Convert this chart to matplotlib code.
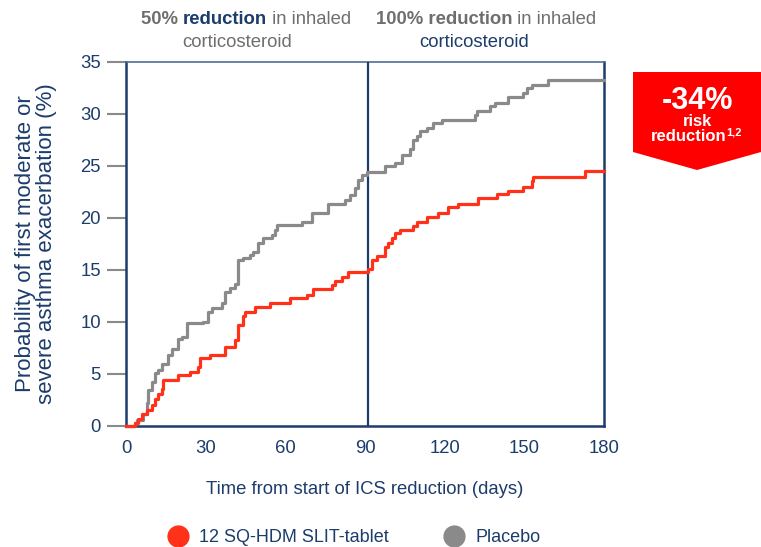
import matplotlib
matplotlib.use("Agg")
import matplotlib.pyplot as plt
from matplotlib.lines import Line2D
from matplotlib.patches import Polygon
from matplotlib.text import Annotation

# ── data ─────────────────────────────────────────────────────────────────────
PLACEBO_DAYS = [0, 3.4, 4.1, 6.4, 7.9, 8.3, 9.8, 10.9, 12.0, 13.6, 15.8, 17.3,
                19.6, 21.1, 23.0, 29.0, 30.9, 32.4, 36.1, 37.3, 39.2, 41.0,
                42.2, 44.1, 46.7, 47.8, 49.7, 51.6, 55.0, 56.1, 56.9, 66.3,
                70.0, 76.1, 82.5, 84.3, 86.2, 87.3, 88.8, 90.7, 97.5, 101.3,
                103.9, 106.9, 108.1, 109.6, 110.7, 113.3, 115.6, 119.0, 131.4,
                132.2, 137.0, 138.9, 143.8, 149.5, 151.0, 152.9, 158.9, 180]
PLACEBO_PCT = [0, 0.3, 0.6, 1.2, 2.2, 3.5, 4.2, 5.1, 5.4, 6.0, 6.8, 7.4,
               8.4, 8.6, 9.9, 10.0, 11.0, 11.3, 11.8, 12.9, 13.3, 13.7,
               16.0, 16.2, 16.4, 16.7, 17.6, 18.1, 18.4, 18.8, 19.3, 19.6,
               20.5, 21.3, 21.7, 22.2, 22.9, 23.7, 24.1, 24.4, 25.0, 25.3,
               26.1, 26.6, 27.5, 27.9, 28.4, 28.7, 29.1, 29.4, 29.9,
               30.3, 30.8, 31.1, 31.6, 32.0, 32.5, 32.8, 33.3, 33.3]

SLIT_DAYS = [0, 3.4, 4.5, 6.0, 7.9, 9.8, 10.9, 12.0, 13.6, 13.9, 19.6, 24.1,
             27.1, 27.9, 31.6, 37.3, 41.0, 42.2, 44.1, 44.8, 48.6, 54.2,
             61.7, 68.1, 70.4, 77.6, 78.7, 81.3, 83.6, 91.1, 92.6, 94.5,
             97.5, 98.6, 100.2, 101.3, 103.2, 108.1, 109.6, 113.3, 117.5,
             121.2, 125.0, 132.5, 139.7, 143.8, 149.5, 152.9, 153.2, 172.8,
             180]
SLIT_PCT = [0, 0.3, 0.7, 1.2, 1.5, 2.0, 2.6, 3.1, 3.6, 4.4, 4.9, 5.2,
            5.7, 6.5, 6.8, 7.6, 8.3, 9.7, 10.6, 11.0, 11.4, 11.8,
            12.3, 12.6, 13.2, 13.6, 13.9, 14.3, 14.8, 15.1, 16.0, 16.3,
            17.2, 17.6, 18.1, 18.6, 18.8, 19.2, 19.6, 20.1, 20.5,
            21.1, 21.3, 21.9, 22.3, 22.6, 23.0, 23.6, 23.9, 24.5,
            24.5]

ICS_SWITCH_DAY = 91
X_TICKS = [0, 30, 60, 90, 120, 150, 180]
Y_TICKS = [0, 5, 10, 15, 20, 25, 30, 35]
SERIES_LABELS = ["12 SQ-HDM SLIT-tablet", "Placebo"]

# ── style ────────────────────────────────────────────────────────────────────
NAVY = "#1c3c6c"
GREY = "#8a8a8a"
TXT_GREY = "#6e6e6e"
RED = "#ff3219"
BADGE = "#fe0000"
HDR = 13.3

plt.rcParams["font.family"] = ["Liberation Sans", "DejaVu Sans"]
plt.rcParams["font.size"] = 12

W, H = 761, 547
fig = plt.figure(figsize=(W / 100, H / 100), dpi=100)
ax = fig.add_axes([126 / W, 1 - 426 / H, (604 - 126) / W, (426 - 62) / H])


def px(x, y):
    """pixel position (from top-left) -> figure fraction"""
    return x / W, 1 - y / H


ax.step(PLACEBO_DAYS, PLACEBO_PCT, where="post", color=GREY, lw=2.3,
        zorder=4, clip_on=False)
ax.step(SLIT_DAYS, SLIT_PCT, where="post", color=RED, lw=2.3,
        zorder=5, clip_on=False)
ax.axvline(ICS_SWITCH_DAY, color=NAVY, lw=1.6, zorder=3)

ax.set_xlim(0, 180)
ax.set_ylim(0, 35)
ax.set_xticks(X_TICKS)
ax.set_yticks(Y_TICKS)
ax.tick_params(axis="x", length=0, pad=10, labelsize=13.3, labelcolor=NAVY)
ax.tick_params(axis="y", length=14, width=1.5, color=GREY, pad=4,
               labelsize=13.3, labelcolor=NAVY)
yt = ax.yaxis.get_major_ticks()
for t in (yt[0], yt[-1]):
    t.tick1line.set_color(NAVY)

for side in ("left", "right", "bottom"):
    ax.spines[side].set_color(NAVY)
    ax.spines[side].set_linewidth(1.8)
ax.spines["top"].set_color("#4f6f95")
ax.spines["top"].set_linewidth(1.2)

ax.set_xlabel("Time from start of ICS reduction (days)", color=NAVY,
              fontsize=13.3, labelpad=17)
ax.set_ylabel("Probability of first moderate or\nsevere asthma exacerbation (%)",
              color=NAVY, fontsize=16, labelpad=17, linespacing=1.0)


# ── header text above the two periods (mixed weights / colours) ─────────────
def header(x, y, pieces):
    prev = fig.text(*px(x, y), pieces[0][0], color=pieces[0][1],
                    fontweight=pieces[0][2], fontsize=HDR, va="baseline")
    for s, c, w in pieces[1:]:
        prev = fig.add_artist(Annotation(
            s, xy=(1, 0), xycoords=prev, color=c, fontweight=w,
            fontsize=HDR, va="bottom", ha="left", annotation_clip=False))


header(141, 24, [("50% ", TXT_GREY, "bold"), ("reduction", NAVY, "bold"),
                 (" in inhaled", TXT_GREY, "normal")])
fig.text(*px(237, 47), "corticosteroid", color=TXT_GREY, fontsize=HDR,
         ha="center", va="baseline")
header(376, 24, [("100% reduction", TXT_GREY, "bold"),
                 (" in inhaled", TXT_GREY, "normal")])
fig.text(*px(474, 47), "corticosteroid", color=NAVY, fontsize=HDR,
         ha="center", va="baseline")

# ── red badge ────────────────────────────────────────────────────────────────
badge = Polygon([px(633, 72), px(761, 72), px(761, 152), px(697, 170),
                 px(633, 152)], closed=True, facecolor=BADGE,
                edgecolor="none", transform=fig.transFigure, zorder=1)
fig.add_artist(badge)
fig.text(*px(697, 101), "-34%", color="white", fontsize=22,
         fontweight="bold", ha="center", va="center", zorder=5)
fig.text(*px(697, 122), "risk", color="white", fontsize=12,
         fontweight="bold", ha="center", va="center", zorder=5)
red_txt = fig.text(*px(689, 137), "reduction", color="white", fontsize=12,
                   fontweight="bold", ha="center", va="center", zorder=5)
fig.add_artist(Annotation("1,2", xy=(0.99, 0.45), xycoords=red_txt,
                          color="white", fontsize=8, fontweight="bold",
                          ha="left", va="bottom", annotation_clip=False,
                          zorder=5))

# ── legend ───────────────────────────────────────────────────────────────────
handles = [Line2D([0], [0], marker="o", linestyle="none", markersize=15,
                  markerfacecolor=c, markeredgecolor=c, label=l)
           for c, l in zip([RED, GREY], SERIES_LABELS)]
leg = fig.legend(handles=handles, loc="center", ncol=2,
                 bbox_to_anchor=px(354, 538), frameon=False, fontsize=13,
                 handlelength=1.2, handletextpad=0.6, columnspacing=3.0)
for t in leg.get_texts():
    t.set_color(NAVY)

fig.savefig("out.png", dpi=100)
